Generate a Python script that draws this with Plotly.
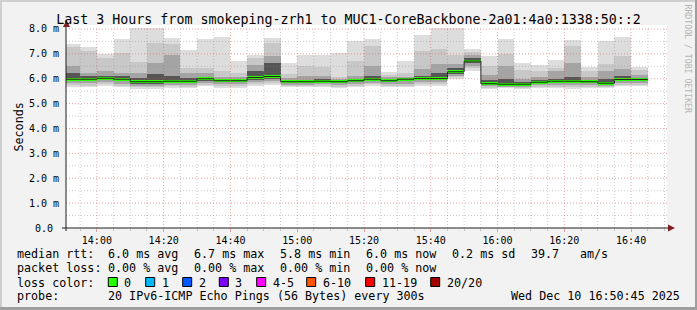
import plotly.graph_objects as go
import pandas as pd

# ---------------- data ----------------
bar_start = pd.date_range("2025-12-10 13:50:00", periods=35, freq="5min")

smoke_top = [7.39, 7.27, 7.01, 7.59, 8.03, 8.03, 7.64, 7.15, 7.59, 7.68, 6.72, 6.95, 7.64, 6.64, 6.95, 6.95, 7.04, 7.52,
             7.59, 6.28, 6.71, 7.75, 8.03, 8.03, 7.19, 6.92, 7.59, 6.64, 6.57, 6.75, 7.55, 6.48, 7.52, 7.66, 6.48]
smoke_u1 = [7.26, 7.11, 6.84, 7.05, 6.68, 7.45, 7.41, 6.45, 6.45, 6.30, 6.25, 6.85, 7.45, 6.20, 6.50, 6.48, 6.06, 6.70,
            7.33, 6.17, 6.22, 7.10, 7.20, 6.95, 7.08, 6.50, 7.00, 6.35, 6.30, 6.45, 7.30, 6.30, 6.60, 6.90, 6.35]
smoke_u2 = [6.50, 6.25, 6.30, 6.25, 6.22, 6.65, 6.95, 6.22, 6.22, 6.06, 6.06, 6.55, 6.90, 6.02, 6.12, 6.12, 5.99, 6.12,
            6.50, 6.06, 6.07, 6.40, 6.60, 6.60, 6.95, 6.15, 6.50, 6.00, 6.05, 6.30, 6.65, 6.05, 6.30, 6.40, 6.15]
smoke_u3 = [6.22, 6.10, 6.12, 6.10, 6.02, 6.20, 6.12, 6.02, 6.08, 5.99, 5.99, 6.30, 6.65, 5.95, 5.96, 6.00, 5.94, 5.99,
            6.12, 5.98, 6.02, 6.12, 6.25, 6.42, 6.85, 5.94, 6.00, 5.88, 5.95, 6.00, 6.05, 5.95, 6.00, 6.10, 6.02]
median_rtt = [5.98, 5.98, 6.02, 5.98, 5.88, 5.88, 5.90, 5.90, 6.00, 5.92, 5.92, 6.05, 6.09, 5.88, 5.88, 5.90, 5.88, 5.92,
              5.98, 5.92, 5.98, 6.01, 6.01, 6.28, 6.71, 5.80, 5.78, 5.78, 5.86, 5.90, 5.90, 5.88, 5.82, 5.97, 5.97]
smoke_d3 = [5.90, 5.90, 5.95, 5.90, 5.80, 5.80, 5.82, 5.82, 5.92, 5.85, 5.85, 5.96, 6.00, 5.82, 5.82, 5.83, 5.81, 5.85,
            5.91, 5.85, 5.89, 5.94, 5.94, 6.20, 6.62, 5.74, 5.73, 5.72, 5.79, 5.82, 5.82, 5.81, 5.76, 5.90, 5.90]
smoke_d2 = [5.82, 5.82, 5.86, 5.80, 5.72, 5.72, 5.75, 5.74, 5.84, 5.77, 5.77, 5.88, 5.92, 5.76, 5.76, 5.77, 5.74, 5.78,
            5.84, 5.78, 5.80, 5.86, 5.86, 6.13, 6.52, 5.69, 5.68, 5.67, 5.73, 5.74, 5.73, 5.74, 5.70, 5.82, 5.82]
smoke_d1 = [5.74, 5.72, 5.77, 5.72, 5.65, 5.65, 5.69, 5.67, 5.76, 5.69, 5.69, 5.78, 5.83, 5.70, 5.70, 5.70, 5.67, 5.71,
            5.77, 5.71, 5.72, 5.78, 5.78, 6.06, 6.42, 5.64, 5.65, 5.63, 5.67, 5.67, 5.66, 5.67, 5.66, 5.75, 5.76]
smoke_bot = [5.67, 5.65, 5.70, 5.65, 5.60, 5.60, 5.64, 5.62, 5.70, 5.62, 5.62, 5.70, 5.75, 5.65, 5.65, 5.65, 5.62, 5.65,
             5.70, 5.65, 5.65, 5.70, 5.70, 6.00, 6.31, 5.60, 5.62, 5.60, 5.62, 5.62, 5.60, 5.62, 5.62, 5.70, 5.70]

y_tick_vals = [0, 1, 2, 3, 4, 5, 6, 7, 8]
y_tick_text = ["0.0\u00a0", "1.0 m", "2.0 m", "3.0 m", "4.0 m", "5.0 m", "6.0 m", "7.0 m", "8.0 m"]

title_text = "Last 3 Hours from smokeping-zrh1 to MUC1-CoreBackbone-2a01:4a0:1338:50::2"
rtt_items = ["6.0 ms avg", "6.7 ms max", "5.8 ms min", "6.0 ms now", "0.2 ms sd", "39.7", "am/s"]
loss_items = ["0.00 % avg", "0.00 % max", "0.00 % min", "0.00 % now"]
loss_labels = ["0", "1", "2", "3", "4-5", "6-10", "11-19", "20/20"]
loss_colors = ["#26ff00", "#00b8ff", "#0059ff", "#7e00ff", "#ff00ff", "#ff5500", "#ff0000", "#a00000"]
probe_text = "20 IPv6-ICMP Echo Pings (56 Bytes) every 300s"
date_text = "Wed Dec 10 16:50:45 2025"

# ---------------- geometry helpers ----------------
W, H = 697, 310
L, R, T, B = 66, 30, 25, 82
PW, PH = W - L - R, H - T - B
MONO = "DejaVu Sans Mono"


def px_x(px):
    return (px - L) / PW


def px_y(py):
    return (H - B - py) / PH


step = pd.Timedelta(minutes=5)
centers = bar_start + step / 2
bar_w = step.total_seconds() * 1000

fig = go.Figure()

bands = [(smoke_bot, smoke_top, "#dddddd"),
         (smoke_d1, smoke_u1, "#c8c8c8"),
         (smoke_d2, smoke_u2, "#a4a4a4"),
         (smoke_d3, smoke_u3, "#555555")]
for lo, hi, col in bands:
    fig.add_trace(go.Bar(x=centers, y=[h - l for l, h in zip(lo, hi)], base=lo, width=bar_w,
                         marker=dict(color=col, line=dict(width=0)), hoverinfo="skip"))

# median black step line
fig.add_trace(go.Scatter(x=list(bar_start) + [bar_start[-1] + step], y=median_rtt + [median_rtt[-1]],
                         mode="lines", line=dict(color="#202020", width=1, shape="hv"), hoverinfo="skip"))
# green loss-colour band around the median
sw = 0.11
fig.add_trace(go.Bar(x=centers, y=[sw] * len(median_rtt), base=[m - sw / 2 for m in median_rtt], width=bar_w,
                     marker=dict(color=loss_colors[0], line=dict(width=0)), hoverinfo="skip"))

x0 = pd.Timestamp("2025-12-10 13:50:45")
x1 = pd.Timestamp("2025-12-10 16:50:45")
YMAX = 8.16

shapes = []
minor_col = "rgba(143,143,143,0.45)"
major_col = "rgba(222,79,79,0.5)"
dash = "1px,2px"
for t in pd.date_range("2025-12-10 13:55", "2025-12-10 16:50", freq="5min"):
    major = (t.minute % 20 == 0)
    shapes.append(dict(type="line", xref="x", yref="y", x0=t, x1=t, y0=0, y1=8.0, layer="above",
                       line=dict(color=major_col if major else minor_col, width=1, dash=dash)))
for k in range(1, 17):
    v = k * 0.5
    major = (k % 2 == 0)
    shapes.append(dict(type="line", xref="paper", yref="y", x0=0, x1=1, y0=v, y1=v, layer="above",
                       line=dict(color=major_col if major else minor_col, width=1, dash=dash)))

axis_col = "#1f1f1f"
arrow_col = "#802020"
# axis lines
shapes.append(dict(type="line", xref="paper", yref="paper", x0=px_x(62), x1=px_x(670), y0=0, y1=0,
                   layer="above", line=dict(color=axis_col, width=1)))
shapes.append(dict(type="line", xref="paper", yref="paper", x0=0, x1=0, y0=px_y(231), y1=px_y(24),
                   layer="above", line=dict(color=axis_col, width=1)))
# arrows
shapes.append(dict(type="path", xref="paper", yref="paper", layer="above",
                   path=f"M {px_x(66.5)},{px_y(20)} L {px_x(63)},{px_y(27)} L {px_x(70)},{px_y(27)} Z",
                   fillcolor=arrow_col, line=dict(width=0)))
shapes.append(dict(type="path", xref="paper", yref="paper", layer="above",
                   path=f"M {px_x(675)},{px_y(228)} L {px_x(668)},{px_y(224.5)} L {px_x(668)},{px_y(231.5)} Z",
                   fillcolor=arrow_col, line=dict(width=0)))
# frame shading
shapes.append(dict(type="rect", xref="paper", yref="paper", x0=px_x(0), x1=px_x(W), y0=px_y(0), y1=px_y(2),
                   fillcolor="#cfcfcf", line=dict(width=0), layer="above"))
shapes.append(dict(type="rect", xref="paper", yref="paper", x0=px_x(0), x1=px_x(2), y0=px_y(0), y1=px_y(H),
                   fillcolor="#cfcfcf", line=dict(width=0), layer="above"))
shapes.append(dict(type="rect", xref="paper", yref="paper", x0=px_x(0), x1=px_x(W), y0=px_y(307), y1=px_y(H),
                   fillcolor="#9e9e9e", line=dict(width=0), layer="above"))
shapes.append(dict(type="rect", xref="paper", yref="paper", x0=px_x(695), x1=px_x(W), y0=px_y(0), y1=px_y(H),
                   fillcolor="#9e9e9e", line=dict(width=0), layer="above"))

# legend boxes
box_x = [108.3, 145.7, 182.7, 219.3, 256.7, 306.7, 365.7, 430.7]
for bx, col in zip(box_x, loss_colors):
    shapes.append(dict(type="rect", xref="paper", yref="paper", x0=px_x(bx), x1=px_x(bx + 9),
                       y0=px_y(286.5), y1=px_y(277.5), fillcolor=col, line=dict(color="#000000", width=1),
                       layer="above"))

LF = 11.7
ann = []


def text(px, py, s, size=LF, anchor="left", color="#000000", angle=0):
    ann.append(dict(xref="paper", yref="paper", x=px_x(px), y=px_y(py), text=s.replace(" ", "\u00a0"),
                    showarrow=False, xanchor=anchor, yanchor="middle", textangle=angle, borderpad=0,
                    font=dict(family=MONO, size=size, color=color)))


item_x = [107.3, 193.3, 279.3, 365.3, 451.0, 530.0, 579.3]
ly = [254.3, 268.3, 282.5, 296.0]
text(16, ly[0], "median rtt:")
for x, s in zip(item_x, rtt_items):
    text(x, ly[0], s)
text(16, ly[1], "packet loss:")
for x, s in zip(item_x, loss_items):
    text(x, ly[1], s)
text(16, ly[2], "loss color:")
for bx, s in zip(box_x, loss_labels):
    text(bx + 15, ly[2], s)
text(16, ly[3], "probe:")
text(107.3, ly[3], probe_text)
text(681, ly[3], date_text, anchor="right")
text(10.5, 127, "Seconds", angle=-90)
text(687.5, 59, "RRDTOOL / TOBI OETIKER", size=8.2, anchor="center", color="#b4b4b4", angle=90)

fig.update_layout(
    width=W, height=H,
    margin=dict(l=L, r=R, t=T, b=B, pad=0),
    paper_bgcolor="#f2f2f2", plot_bgcolor="#ffffff",
    showlegend=False, barmode="overlay", bargap=0,
    title=dict(text=title_text, x=0.5, xref="container", xanchor="center",
               y=1 - 19.7 / H, yref="container", yanchor="middle",
               font=dict(family=MONO, size=13.3, color="#000000")),
    xaxis=dict(type="date", range=[x0, x1], showgrid=False, zeroline=False, showline=False,
               tick0="2025-12-10 14:00", dtick=20 * 60 * 1000, tickformat="%H:%M",
               ticks="outside", ticklen=3, tickcolor=major_col, tickwidth=1,
               minor=dict(dtick=5 * 60 * 1000, tick0="2025-12-10 13:55", ticks="outside", ticklen=2,
                          tickcolor=minor_col, showgrid=False),
               tickfont=dict(family=MONO, size=10, color="#000000"), fixedrange=True),
    yaxis=dict(range=[0, YMAX], showgrid=False, zeroline=False, showline=False,
               tickmode="array", tickvals=y_tick_vals, ticktext=y_tick_text, ticks="",
               ticklabelstandoff=6,
               tickfont=dict(family=MONO, size=10, color="#000000"), fixedrange=True),
    shapes=shapes, annotations=ann,
)

fig.write_html("out.html")
